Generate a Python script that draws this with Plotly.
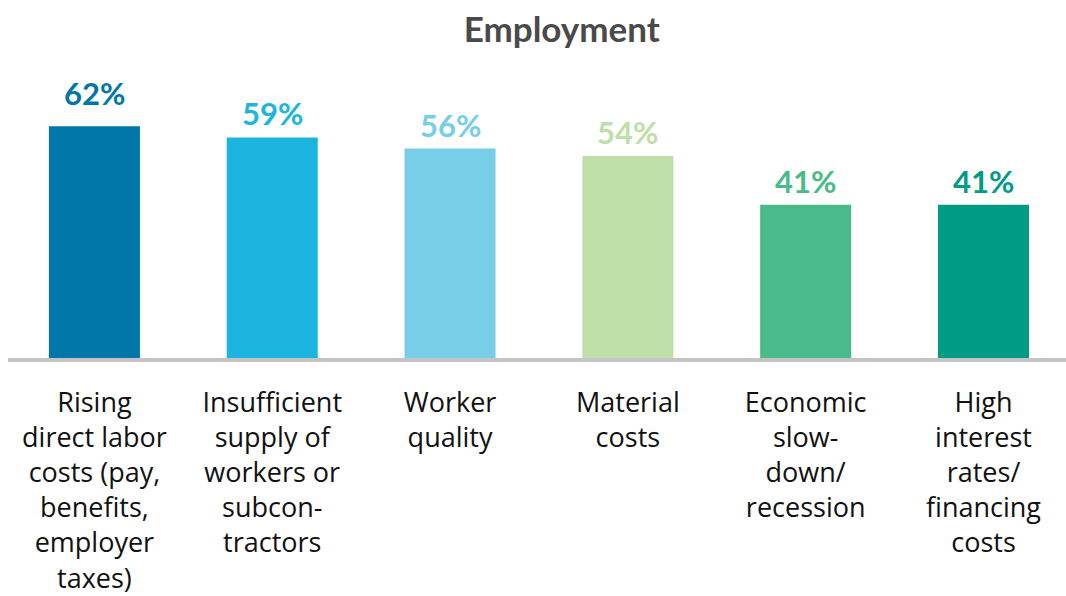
import plotly.graph_objects as go

categories = [
    "Rising<br>direct labor<br>costs (pay,<br>benefits,<br>employer<br>taxes)",
    "Insufficient<br>supply of<br>workers or<br>subcon-<br>tractors",
    "Worker<br>quality",
    "Material<br>costs",
    "Economic<br>slow-<br>down/<br>recession",
    "High<br>interest<br>rates/<br>financing<br>costs",
]
values = [62, 59, 56, 54, 41, 41]
value_labels = ["62%", "59%", "56%", "54%", "41%", "41%"]
colors = ["#0077A8", "#1CB5E0", "#78CEE7", "#BEDFA7", "#4ABA8A", "#009B84"]
label_shift = [12, 3, 3, 3, 3, 3]

x = list(range(len(values)))

fig = go.Figure()
fig.add_trace(go.Bar(
    x=x, y=values, width=0.512, marker=dict(color=colors, line=dict(width=0)),
    hoverinfo="skip",
))

for xi, v, lab, c, s in zip(x, values, value_labels, colors, label_shift):
    fig.add_annotation(
        x=xi, y=v, text="<b>" + lab + "</b>", showarrow=False,
        yanchor="bottom", yshift=s,
        font=dict(family="Lato", size=31, color=c),
    )

# baseline
fig.add_shape(
    type="rect", xref="paper", yref="paper", x0=0.0075, x1=1.0,
    ysizemode="pixel", yanchor=0, y0=-4, y1=0,
    fillcolor="#C4C4C4", line=dict(width=0), layer="above",
)

fig.update_layout(
    width=1066, height=596,
    margin=dict(l=0, r=0, t=60, b=238),
    paper_bgcolor="white", plot_bgcolor="white",
    showlegend=False,
    title=dict(
        text="<b>Employment</b>", x=0.527, xanchor="center", y=0.95, yanchor="middle",
        font=dict(family="Lato", size=35, color="#4A4A4A"),
    ),
    xaxis=dict(
        tickmode="array", tickvals=x, ticktext=categories,
        range=[-0.531, 5.464], showgrid=False, zeroline=False, showline=False,
        ticks="", ticklabelstandoff=26,
        tickfont=dict(family="Open Sans", size=27, color="#111111"),
        automargin=False,
    ),
    yaxis=dict(
        range=[0, 79.7], visible=False, showgrid=False, zeroline=False,
        automargin=False,
    ),
)

fig.write_html("out.html")
